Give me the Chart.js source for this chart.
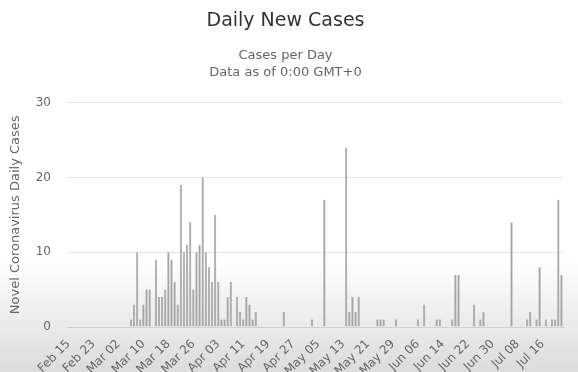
<!DOCTYPE html>
<html>
<head>
<meta charset="utf-8">
<script src="https://cdn.jsdelivr.net/npm/chart.js@4.4.1/dist/chart.umd.min.js"></script>
<style>
  html, body { margin: 0; padding: 0; }
  body { width: 578px; height: 372px; background: linear-gradient(to bottom, #ffffff 0%, #ffffff 70%, #dcdcdc 100%); }
  canvas { display: block; }
</style>
</head>
<body>
<canvas id="dailyctr" width="578" height="372"></canvas>
<script>
// first day on the axis and how many days are shown
const startDate = [2020, 2, 15]; // Feb 15 2020 (year, month, day)
const dayCount = 159;

// labels that are visible under the axis (every 8th day)
const tickLabels = ['Feb 15', 'Feb 23', 'Mar 02', 'Mar 10', 'Mar 18', 'Mar 26', 'Apr 03', 'Apr 11',
  'Apr 19', 'Apr 27', 'May 05', 'May 13', 'May 21', 'May 29', 'Jun 06', 'Jun 14', 'Jun 22',
  'Jun 30', 'Jul 08', 'Jul 16'];

// new cases per day, Feb 15 .. Jul 22
const dailyCases = [
  0, 0, 0, 0, 0, 0, 0, 0, 0, 0,      // Feb 15 - Feb 24
  0, 0, 0, 0, 0, 0, 0, 0, 0, 0,      // Feb 25 - Mar 05
  1, 3, 10, 1, 3, 5, 5, 0, 9, 4,     // Mar 06 - Mar 15
  4, 5, 10, 9, 6, 3, 19, 10, 11, 14, // Mar 16 - Mar 25
  5, 10, 11, 20, 10, 8, 6, 15, 6, 1, // Mar 26 - Apr 04
  1, 4, 6, 0, 4, 2, 1, 4, 3, 1,      // Apr 05 - Apr 14
  2, 0, 0, 0, 0, 0, 0, 0, 0, 2,      // Apr 15 - Apr 24
  0, 0, 0, 0, 0, 0, 0, 0, 1, 0,      // Apr 25 - May 04
  0, 0, 17, 0, 0, 0, 0, 0, 0, 24,    // May 05 - May 14
  2, 4, 2, 4, 0, 0, 0, 0, 0, 1,      // May 15 - May 24
  1, 1, 0, 0, 0, 1, 0, 0, 0, 0,      // May 25 - Jun 03
  0, 0, 1, 0, 3, 0, 0, 0, 1, 1,      // Jun 04 - Jun 13
  0, 0, 0, 1, 7, 7, 0, 0, 0, 0,      // Jun 14 - Jun 23
  3, 0, 1, 2, 0, 0, 0, 0, 0, 0,      // Jun 24 - Jul 03
  0, 0, 14, 0, 0, 0, 0, 1, 2, 0,     // Jul 04 - Jul 13
  1, 8, 0, 1, 0, 1, 1, 17, 7         // Jul 14 - Jul 22
];

const yTicks = [0, 10, 20, 30];

const monthNames = ['Jan', 'Feb', 'Mar', 'Apr', 'May', 'Jun', 'Jul', 'Aug', 'Sep', 'Oct', 'Nov', 'Dec'];
const days = [];
for (let i = 0; i < dayCount; i++) {
  const d = new Date(startDate[0], startDate[1] - 1, startDate[2] + i);
  days.push(monthNames[d.getMonth()] + ' ' + String(d.getDate()).padStart(2, '0'));
}

const fontFam = '"DejaVu Sans", Verdana, sans-serif';

const ctx = document.getElementById('dailyctr').getContext('2d');
const dailyChart = new Chart(ctx, {
  type: 'bar',
  data: {
    labels: days,
    datasets: [{
      label: 'Cases per Day',
      data: dailyCases,
      backgroundColor: '#a3a3a3',
      borderColor: '#8a8a8a',
      borderWidth: 0.5,
      barPercentage: 0.7,
      categoryPercentage: 1
    }]
  },
  options: {
    responsive: false,
    animation: false,
    layout: {
      padding: { top: 0, right: 15, bottom: 0, left: 8 }
    },
    plugins: {
      legend: { display: false },
      tooltip: { enabled: false },
      title: {
        display: true,
        text: 'Daily New Cases',
        color: '#333333',
        font: { family: fontFam, size: 19, weight: 'normal' },
        padding: { top: 10, bottom: 14 }
      },
      subtitle: {
        display: true,
        text: ['Cases per Day', 'Data as of 0:00 GMT+0'],
        color: '#666666',
        font: { family: fontFam, size: 13, weight: 'normal', lineHeight: 1.3 },
        padding: { top: 0, bottom: 22 }
      }
    },
    scales: {
      x: {
        grid: { display: false },
        border: { color: '#d3d3d3', width: 1 },
        ticks: {
          autoSkip: false,
          maxRotation: 45,
          minRotation: 45,
          color: '#666666',
          font: { family: fontFam, size: 12 },
          padding: 2,
          callback: function(value, index) {
            const lbl = days[index];
            return tickLabels.includes(lbl) ? lbl : '';
          }
        },
        afterFit: function(scale) { scale.height = 45; }
      },
      y: {
        min: 0,
        max: 30,
        afterBuildTicks: function(scale) {
          scale.ticks = yTicks.map(v => ({ value: v }));
        },
        grid: { color: '#e6e6e6', drawTicks: false },
        border: { display: false },
        ticks: {
          color: '#666666',
          font: { family: fontFam, size: 12 },
          padding: 16
        },
        title: {
          display: true,
          text: 'Novel Coronavirus Daily Cases',
          color: '#666666',
          font: { family: fontFam, size: 13 },
          padding: { top: 0, bottom: 0 }
        },
        afterFit: function(scale) { scale.width = 59; }
      }
    }
  }
});
</script>
</body>
</html>
